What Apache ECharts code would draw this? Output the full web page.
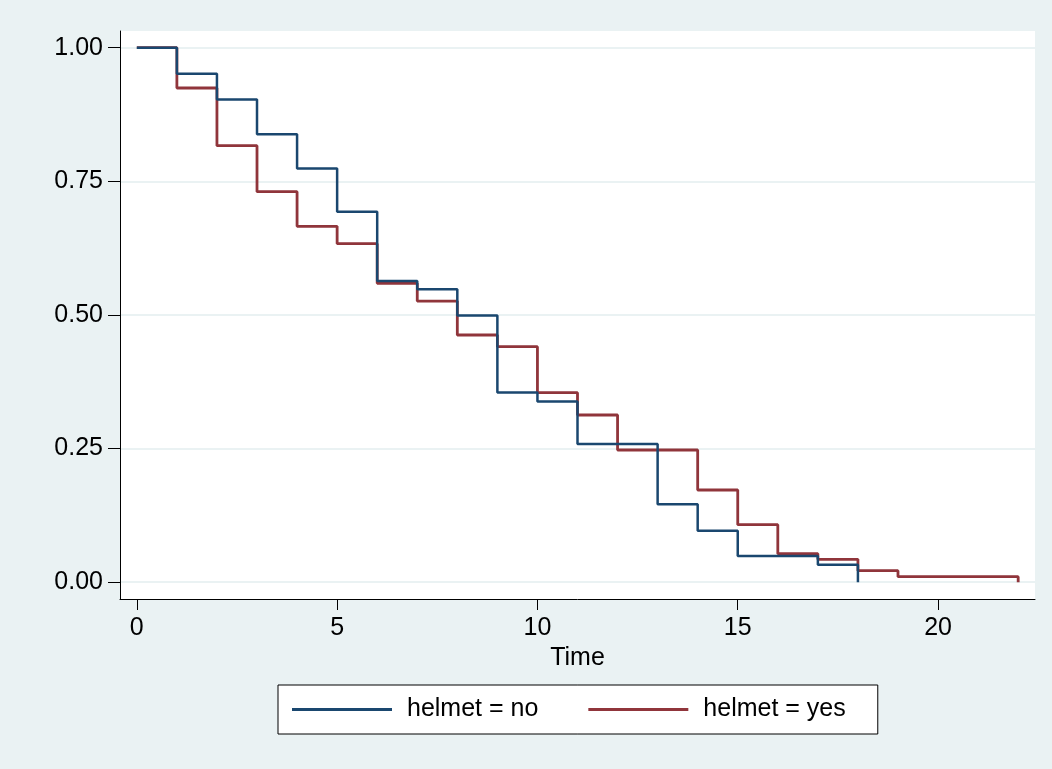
<!DOCTYPE html>
<html>
<head>
<meta charset="utf-8">
<script src="https://cdn.jsdelivr.net/npm/echarts@6/dist/echarts.min.js"></script>
<style>
  html, body { margin: 0; padding: 0; background: #eaf2f3; }
  #chart { width: 1052px; height: 769px; }
</style>
</head>
<body>
<div id="chart"></div>
<script>
// Kaplan-Meier survival estimates
const timesNo = [0, 1, 2, 3, 4, 5, 6, 7, 8, 9, 10, 11, 13, 14, 15, 17, 18];
const survNo = [1, 0.951, 0.903, 0.838, 0.774, 0.693, 0.5635, 0.548, 0.499, 0.355, 0.338, 0.2585, 0.1457, 0.0964, 0.049, 0.0328, 0];

const timesYes = [0, 1, 2, 3, 4, 5, 6, 7, 8, 9, 10, 11, 12, 14, 15, 16, 17, 18, 19, 22];
const survYes = [1, 0.9246, 0.8167, 0.7306, 0.6658, 0.6333, 0.5592, 0.526, 0.4625, 0.4406, 0.3546, 0.3128, 0.2473, 0.1725, 0.1076, 0.0533, 0.0428, 0.0215, 0.0103, 0];

const xTicks = [0, 5, 10, 15, 20];
const yTicks = [0, 0.25, 0.5, 0.75, 1];

const seriesNames = ["helmet = no", "helmet = yes"];
const xTitle = "Time";

const FONT = "Liberation Sans, Arial, sans-serif";

const chart = echarts.init(document.getElementById("chart"), undefined, { renderer: "canvas" });

chart.setOption({
  animation: false,
  backgroundColor: "#eaf2f3",
  textStyle: { fontFamily: FONT },
  grid: {
    left: 120,
    right: 17,
    top: 31,
    bottom: 170,
    show: true,
    backgroundColor: "#ffffff",
    borderWidth: 0,
  },
  legend: {
    left: 278,
    top: 685,
    data: seriesNames,
    icon: "rect",
    backgroundColor: "#ffffff",
    borderColor: "#000000",
    borderWidth: 1,
    borderRadius: 0,
    padding: [12, 32, 12, 14],
    itemWidth: 100,
    itemHeight: 3,
    itemGap: 50,
    textStyle: {
      fontFamily: FONT,
      fontSize: 25,
      color: "#000000",
      padding: [0, 0, 0, 10],
    },
  },
  xAxis: {
    type: "value",
    min: -0.42,
    max: 22.42,
    name: xTitle,
    nameLocation: "middle",
    nameGap: 41,
    nameTextStyle: { fontFamily: FONT, fontSize: 25, color: "#000000" },
    axisLine: { onZero: false, lineStyle: { color: "#000000", width: 1 } },
    axisTick: { show: true, length: 11, customValues: xTicks, lineStyle: { color: "#000000" } },
    axisLabel: {
      customValues: xTicks,
      margin: 17,
      fontFamily: FONT,
      fontSize: 25,
      color: "#000000",
    },
    splitLine: { show: false },
  },
  yAxis: {
    type: "value",
    min: -0.0314,
    max: 1.0312,
    axisLine: { show: true, onZero: false, lineStyle: { color: "#000000", width: 1 } },
    axisTick: { show: true, length: 12, customValues: yTicks, lineStyle: { color: "#000000" } },
    axisLabel: {
      customValues: yTicks,
      margin: 17,
      fontFamily: FONT,
      fontSize: 25,
      color: "#000000",
      formatter: (v) => v.toFixed(2),
    },
    splitLine: { show: true, lineStyle: { color: "#eaf2f3", width: 2 } },
  },
  series: [
    {
      name: seriesNames[0],
      type: "line",
      step: "end",
      symbol: "none",
      color: "#1a476f",
      lineStyle: { color: "#1a476f", width: 2.5 },
      data: timesNo.map((t, i) => [t, survNo[i]]),
      z: 3,
    },
    {
      name: seriesNames[1],
      type: "line",
      step: "end",
      symbol: "none",
      color: "#90353b",
      lineStyle: { color: "#90353b", width: 2.8 },
      data: timesYes.map((t, i) => [t, survYes[i]]),
      z: 2,
    },
  ],
});
</script>
</body>
</html>
